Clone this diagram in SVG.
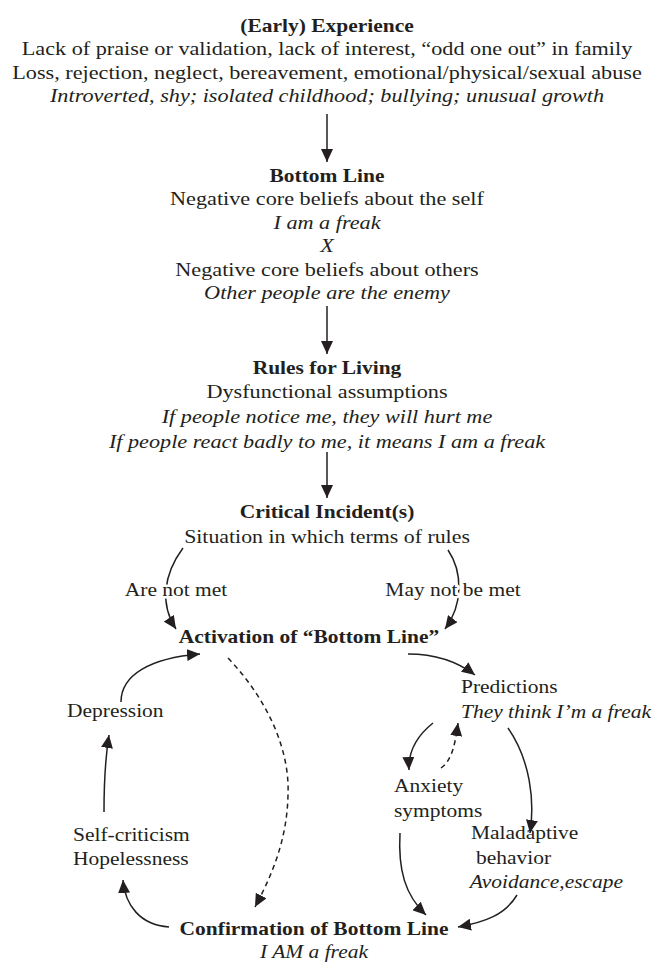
<svg xmlns="http://www.w3.org/2000/svg" width="654" height="963" viewBox="0 0 654 963">
<style>
text{font-family:"Liberation Serif","Times New Roman",serif;font-size:19px;fill:#231f20}
.c{text-anchor:middle}
.b{font-weight:bold}
.i{font-style:italic}
.halo{stroke:#ffffff;stroke-width:5px;paint-order:stroke;stroke-linejoin:round}
.ln{fill:none;stroke:#231f20;stroke-width:1.5}
.ds{stroke-dasharray:5,4}
</style>
<defs>
<marker id="ah" markerUnits="userSpaceOnUse" markerWidth="14" markerHeight="12" refX="13" refY="6" orient="auto"><path d="M0,0 L13,6 L0,12 z" fill="#231f20"/></marker>
</defs>
<rect width="654" height="963" fill="#ffffff"/>
<g id="connectors">
<line class="ln" x1="327" y1="114" x2="327" y2="162" marker-end="url(#ah)"/>
<line class="ln" x1="327" y1="306" x2="327" y2="354" marker-end="url(#ah)"/>
<line class="ln" x1="327" y1="452" x2="327" y2="498" marker-end="url(#ah)"/>
<path class="ln" d="M183,548 C163,575 160,605 176,629" marker-end="url(#ah)"/>
<path class="ln" d="M448,550 C463,572 463,605 445,629" marker-end="url(#ah)"/>
<path class="ln" d="M408,654 C435,654 458,662 475,675" marker-end="url(#ah)"/>
<path class="ln" d="M121,702 C121,675 150,658 200,654" marker-end="url(#ah)"/>
<path class="ln" d="M104,812 C104,785 105,760 109,735" marker-end="url(#ah)"/>
<path class="ln ds" d="M228,658 C268,700 290,750 288,795 C287,840 272,875 255,907" marker-end="url(#ah)"/>
<path class="ln" d="M169,927 C140,925 125,905 123,880" marker-end="url(#ah)"/>
<path class="ln" d="M433,723 C418,735 408,750 409,770" marker-end="url(#ah)"/>
<path class="ln ds" d="M441,768 C452,760 455,745 458,723" marker-end="url(#ah)"/>
<path class="ln" d="M508,728 C530,760 535,800 530,833" marker-end="url(#ah)"/>
<path class="ln" d="M400,833 C398,870 405,895 426,915" marker-end="url(#ah)"/>
<path class="ln" d="M517,895 C505,915 485,922 458,927" marker-end="url(#ah)"/>
</g>
<g id="experience">
<text class="c b" transform="translate(327,0) scale(1.13,1)" x="0" y="32">(Early) Experience</text>
<g transform="translate(327,0) scale(1.17,1)">
<text class="c" x="0" y="55">Lack of praise or validation, lack of interest, “odd one out” in family</text>
<text class="c" x="0" y="79">Loss, rejection, neglect, bereavement, emotional/physical/sexual abuse</text>
<text class="c i" x="0" y="102">Introverted, shy; isolated childhood; bullying; unusual growth</text>
</g>
</g>
<g id="bottom-line">
<text class="c b" transform="translate(327,0) scale(1.13,1)" x="0" y="182">Bottom Line</text>
<g transform="translate(327,0) scale(1.17,1)">
<text class="c" x="0" y="205.5">Negative core beliefs about the self</text>
<text class="c i" x="0" y="229">I am a freak</text>
<text class="c i" x="0" y="252.5">X</text>
<text class="c" x="0" y="276">Negative core beliefs about others</text>
<text class="c i" x="0" y="299.5">Other people are the enemy</text>
</g>
</g>
<g id="rules">
<text class="c b" transform="translate(327,0) scale(1.13,1)" x="0" y="374">Rules for Living</text>
<g transform="translate(327,0) scale(1.17,1)">
<text class="c" x="0" y="398">Dysfunctional assumptions</text>
<text class="c i" x="0" y="423">If people notice me, they will hurt me</text>
<text class="c i" x="0" y="448">If people react badly to me, it means I am a freak</text>
</g>
</g>
<g id="critical">
<text class="c b" transform="translate(327,0) scale(1.13,1)" x="0" y="518">Critical Incident(s)</text>
<text class="c" transform="translate(327,0) scale(1.15,1)" x="0" y="543">Situation in which terms of rules</text>
</g>
<g id="label-not-met" transform="translate(176,0) scale(1.13,1)">
<text class="c halo" x="0" y="596">Are not met</text>
</g>
<g id="label-may-not" transform="translate(453,0) scale(1.13,1)">
<text class="c halo" x="0" y="596">May not be met</text>
</g>
<g id="activation" transform="translate(309,0) scale(1.13,1)">
<text class="c b" x="0" y="643">Activation of “Bottom Line”</text>
</g>
<g id="predictions" transform="translate(461,0) scale(1.13,1)">
<text x="0" y="693">Predictions</text>
<text class="i" x="0" y="718">They think I’m a freak</text>
</g>
<g id="depression" transform="translate(67,0) scale(1.13,1)">
<text x="0" y="717">Depression</text>
</g>
<g id="anxiety" transform="translate(394,0) scale(1.13,1)">
<text x="0" y="792">Anxiety</text>
<text x="0" y="817">symptoms</text>
</g>
<g id="self-criticism" transform="translate(73,0) scale(1.13,1)">
<text x="0" y="841">Self-criticism</text>
<text x="0" y="865">Hopelessness</text>
</g>
<g id="maladaptive" transform="translate(471,0) scale(1.13,1)">
<text x="0" y="839">Maladaptive</text>
<text x="4.5" y="864">behavior</text>
<text class="i" x="-1" y="888">Avoidance,escape</text>
</g>
<g id="confirmation" transform="translate(314,0) scale(1.13,1)">
<text class="c b" x="0" y="935">Confirmation of Bottom Line</text>
<text class="c i" x="0" y="958">I AM a freak</text>
</g>
</svg>
